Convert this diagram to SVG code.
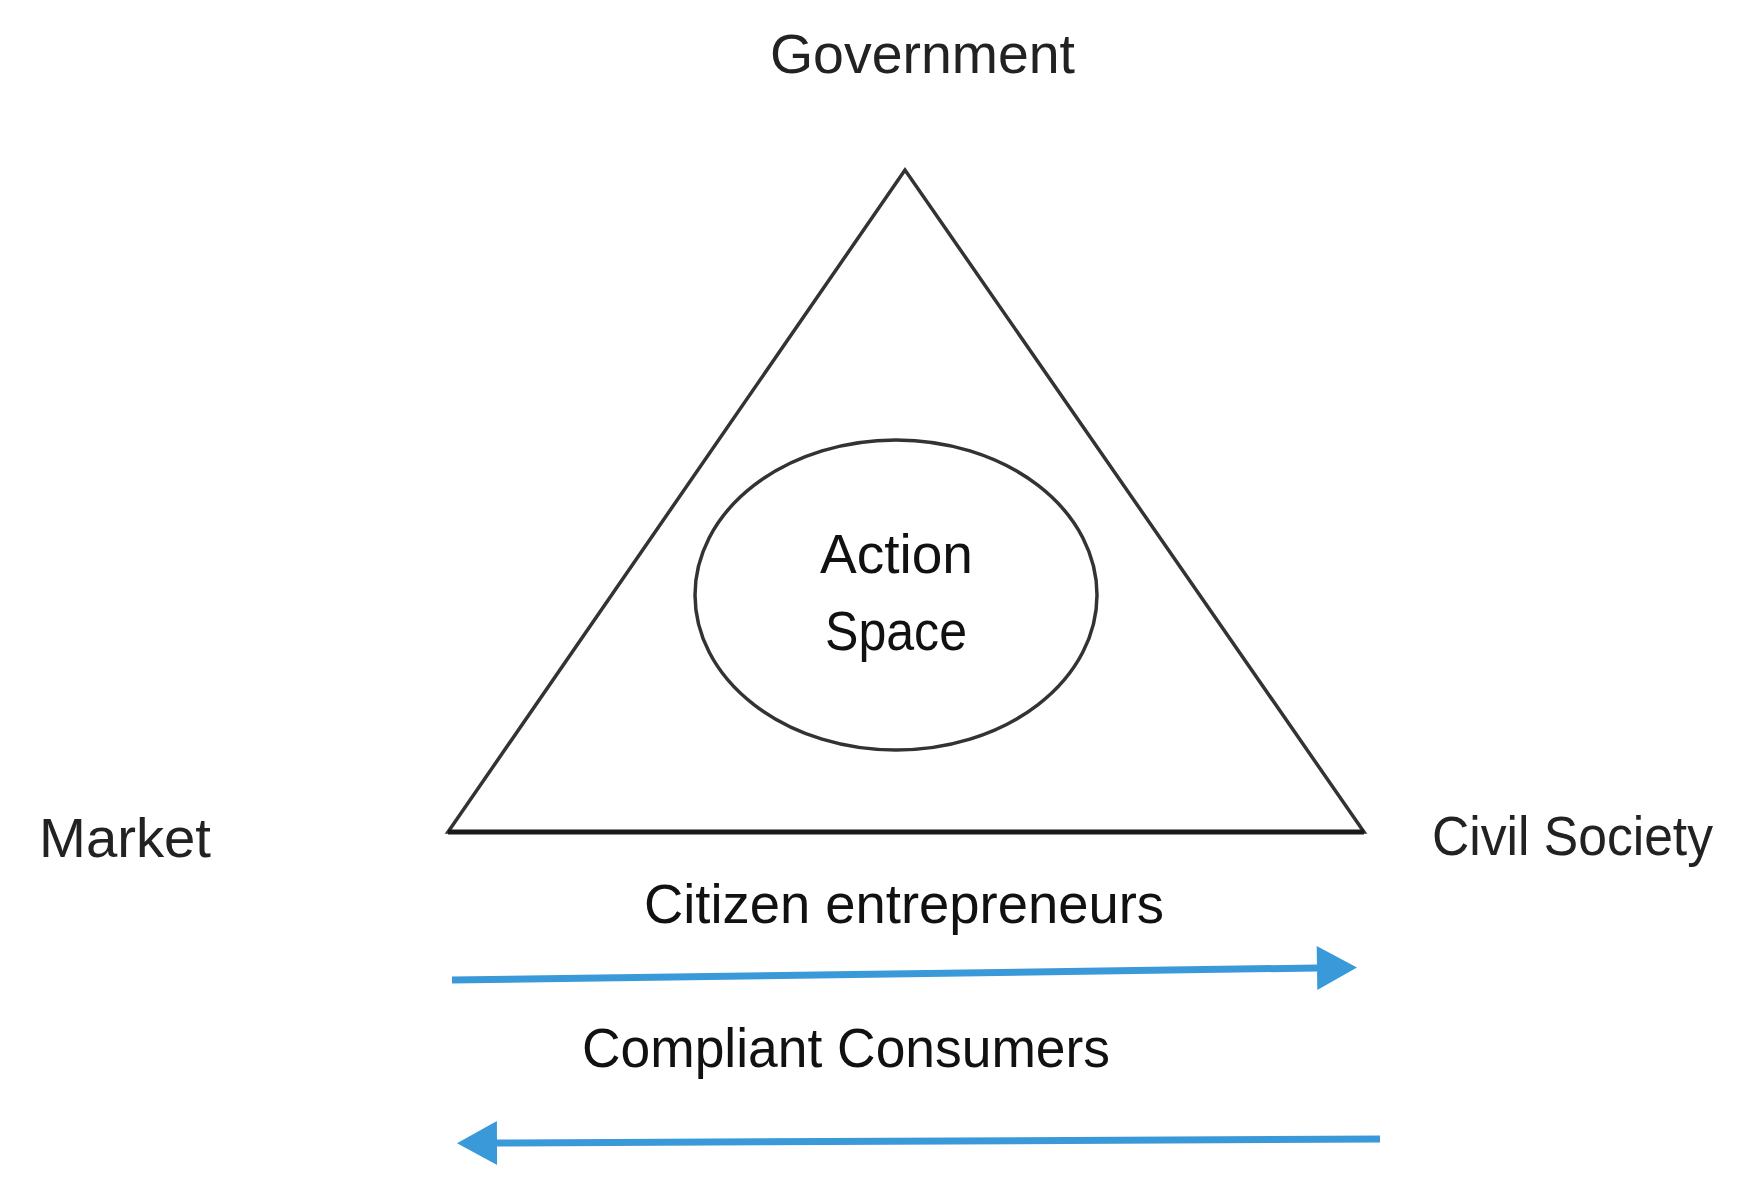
<svg xmlns="http://www.w3.org/2000/svg" width="1757" height="1192" viewBox="0 0 1757 1192">
  <style>
    .lbl { font-family: "Liberation Sans", Arial, sans-serif; font-size: 55px; fill: #222; }
    .lbl2 { font-family: "Liberation Sans", Arial, sans-serif; font-size: 55px; fill: #111; }
    .shape { fill: none; stroke: #333; stroke-width: 3.5; }
    .arrow { fill: none; stroke: #3a9ad9; stroke-width: 7; }
  </style>
  <defs>
    <marker id="head" markerUnits="userSpaceOnUse" markerWidth="40" markerHeight="44" refX="0" refY="22" orient="auto" overflow="visible">
      <path d="M0,0 L40,22 L0,44 Z" fill="#3a9ad9"/>
    </marker>
  </defs>
  <rect width="1757" height="1192" fill="#fff"/>

  <g id="triangle">
    <polygon class="shape" points="905,170 448,832 1364,832" stroke-linejoin="miter"/>
    <line x1="448" y1="832" x2="1364" y2="832" stroke="#1a1a1a" stroke-width="5"/>
  </g>

  <g id="government">
    <text class="lbl" x="770" y="73" textLength="305" lengthAdjust="spacingAndGlyphs">Government</text>
  </g>
  <g id="market">
    <text class="lbl" x="39" y="857" textLength="172" lengthAdjust="spacingAndGlyphs">Market</text>
  </g>
  <g id="civil-society">
    <text class="lbl" x="1432" y="855" textLength="281" lengthAdjust="spacingAndGlyphs">Civil Society</text>
  </g>

  <g id="action-space">
    <ellipse class="shape" cx="896" cy="595" rx="201" ry="155"/>
    <text class="lbl2" x="820" y="573" textLength="153" lengthAdjust="spacingAndGlyphs">Action</text>
    <text class="lbl2" x="825" y="650" textLength="142" lengthAdjust="spacingAndGlyphs">Space</text>
  </g>

  <g id="connectors">
    <line class="arrow" x1="452" y1="980" x2="1317" y2="968" marker-end="url(#head)"/>
    <line class="arrow" x1="1380" y1="1139" x2="497" y2="1143" marker-end="url(#head)"/>
  </g>

  <g id="citizen-entrepreneurs">
    <text class="lbl2" x="644" y="923" textLength="520" lengthAdjust="spacingAndGlyphs">Citizen entrepreneurs</text>
  </g>
  <g id="compliant-consumers">
    <text class="lbl2" x="582" y="1067" textLength="528" lengthAdjust="spacingAndGlyphs">Compliant Consumers</text>
  </g>
</svg>
